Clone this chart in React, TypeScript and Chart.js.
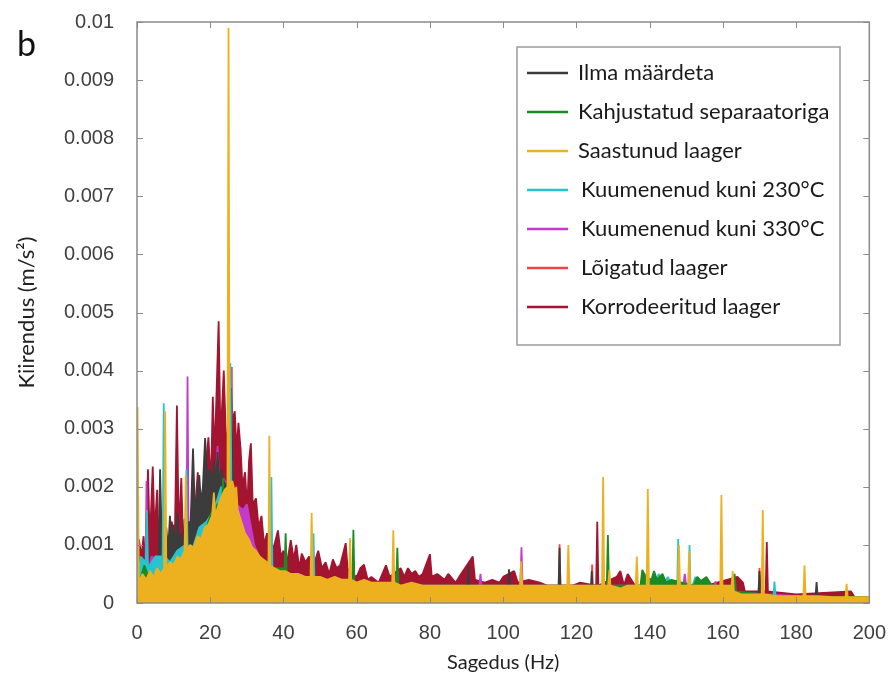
import React, { useEffect, useRef } from 'react';
import { Chart, registerables } from 'chart.js';

Chart.register(...registerables);

// Axis ticks
const xTickValues = [0, 20, 40, 60, 80, 100, 120, 140, 160, 180, 200];
const xTickLabels = ['0', '20', '40', '60', '80', '100', '120', '140', '160', '180', '200'];
const yTickValues = [0, 0.001, 0.002, 0.003, 0.004, 0.005, 0.006, 0.007, 0.008, 0.009, 0.01];
const yTickLabels = ['0', '0.001', '0.002', '0.003', '0.004', '0.005', '0.006', '0.007', '0.008', '0.009', '0.01'];

const seriesNames = [
  'Ilma määrdeta',
  'Kahjustatud separaatoriga',
  'Saastunud laager',
  'Kuumenenud kuni 230°C',
  'Kuumenenud kuni 330°C',
  'Lõigatud laager',
  'Korrodeeritud laager',
];
const seriesColors = ['#3c3c3c', '#1b8a22', '#edb120', '#26c4cc', '#c23bcc', '#f04545', '#a2142f'];
// drawing order: lower = drawn on top
const seriesDrawOrder = [3, 1, 0, 2, 4, 5, 6];

// amplitudes are listed in 10^-3 m/s^2, frequencies in Hz
const UNIT = 0.001;

const ilmaMaardeta: [number, number][] = [
  [0, 0.1], [5.8, 0.2], [6.3, 2.3], [6.8, 1.0], [7.5, 1.1], [8, 1.3], [8.5, 0.9], [9, 1.5], [9.5, 1.0],
  [10, 1.35], [10.5, 0.9], [11, 1.55], [11.5, 1.0], [12, 1.2], [12.5, 0.9], [13, 1.45], [13.5, 1.0], [14, 1.4],
  [14.6, 1.3], [15.3, 2.66], [15.8, 1.6], [16.4, 1.8], [17, 2.2], [17.5, 1.7], [18, 2.0], [18.6, 2.84],
  [19.2, 2.2], [20, 2.3], [20.6, 2.0], [21, 2.45], [21.6, 2.1], [22, 2.6], [22.6, 2.0], [23, 2.3], [24, 2.0],
  [25.4, 2.2], [25.7, 3.7], [26.2, 2.0], [27, 1.5], [28, 1.0], [29, 1.1], [30, 0.8], [31, 0.3], [35, 0.15],
  [90.2, 0.15], [90.5, 0.65], [90.8, 0.15], [101.3, 0.15], [101.6, 0.58], [101.9, 0.15], [115.1, 0.15],
  [115.4, 0.95], [115.7, 0.15], [123.9, 0.15], [124.2, 0.55], [124.5, 0.1], [169.7, 0.1], [170.0, 0.55],
  [170.3, 0.1], [185.3, 0.1], [185.6, 0.36], [185.9, 0.1], [200, 0.05],
];

const kahjustatud: [number, number][] = [
  [0, 0.2], [2, 0.65], [3.5, 0.4], [5, 0.5], [8, 0.5], [10, 0.55], [12, 0.6], [14, 0.7], [16, 0.9], [18, 1.1],
  [20, 1.5], [22, 1.7], [23.2, 1.7], [23.5, 2.15], [23.8, 1.6], [25, 1.6], [26, 1.3], [27.5, 1.2], [28.3, 1.4],
  [29, 1.0], [30, 0.9], [33, 0.7], [36, 0.6], [40.3, 0.6], [40.6, 1.2], [40.9, 0.5], [45, 0.4], [50, 0.3],
  [58.8, 0.3], [59.1, 1.26], [59.4, 0.3], [70.8, 0.3], [71.1, 0.95], [71.4, 0.3], [90, 0.3], [110, 0.3],
  [128.3, 0.3], [128.6, 1.17], [128.9, 0.3], [137.5, 0.3], [138, 0.57], [139, 0.45], [140.5, 0.4],
  [141.2, 0.55], [142, 0.4], [143.5, 0.5], [144.5, 0.35], [146, 0.4], [152, 0.3], [153, 0.45], [154, 0.38],
  [155.5, 0.45], [157, 0.3], [162.8, 0.3], [163.2, 0.5], [163.6, 0.2], [175, 0.12], [200, 0.1],
];

const saastunud: [number, number][] = [
  [0, 0.3], [0.15, 3.37], [0.5, 0.35], [1.5, 0.5], [2.5, 0.4], [3.5, 0.55], [4.5, 0.45], [5.5, 0.6],
  [6.5, 0.5], [7.4, 0.6], [7.7, 3.3], [8.0, 0.6], [9, 0.7], [10, 0.65], [11, 0.8], [12, 0.75], [13.0, 0.9],
  [13.3, 2.2], [13.6, 0.9], [14.5, 1.0], [15.5, 0.95], [16.5, 1.15], [17.5, 1.1], [18.5, 1.3], [19.5, 1.35],
  [20.5, 1.5], [21.0, 1.9], [21.4, 1.5], [22.3, 1.7], [23.2, 1.85], [24, 1.95], [24.7, 2.0], [25.0, 9.9],
  [25.3, 2.05], [26, 2.1], [26.8, 1.9], [27.1, 2.0], [27.5, 1.6], [28.5, 1.4], [29.5, 1.2], [30.5, 1.1],
  [31.5, 0.95], [32.5, 0.9], [33.5, 0.8], [34.5, 0.75], [35.5, 0.7], [35.9, 0.7], [36.15, 2.88], [36.4, 0.65],
  [37.5, 0.6], [39, 0.55], [40.5, 0.55], [42, 0.5], [44, 0.5], [46, 0.45], [47.4, 0.45], [47.7, 1.55],
  [48.0, 0.45], [50, 0.45], [52, 0.4], [54, 0.45], [56, 0.4], [57.9, 0.4], [58.2, 1.12], [58.5, 0.4],
  [60, 0.35], [62, 0.4], [64, 0.35], [66, 0.35], [68, 0.35], [69.7, 0.35], [70.0, 1.25], [70.3, 0.35],
  [72, 0.3], [75, 0.35], [78, 0.3], [81, 0.3], [84, 0.3], [87, 0.3], [90, 0.3], [93, 0.3], [96, 0.3],
  [99, 0.3], [102, 0.3], [104.6, 0.3], [104.9, 0.72], [105.2, 0.3], [108, 0.3], [111, 0.3], [114, 0.3],
  [117.5, 0.3], [117.8, 1.0], [118.1, 0.3], [121, 0.3], [124, 0.3], [127.0, 0.3], [127.3, 2.17], [127.6, 0.3],
  [128.7, 0.3], [129.0, 0.57], [129.3, 0.3], [132, 0.25], [134, 0.3], [136.2, 0.3], [136.5, 0.8], [136.8, 0.3],
  [139.2, 0.3], [139.5, 1.96], [139.8, 0.3], [142, 0.3], [145, 0.3], [147.7, 0.3], [148.0, 1.0], [148.3, 0.3],
  [150.5, 0.3], [150.8, 0.9], [151.1, 0.3], [154, 0.3], [157, 0.3], [159.3, 0.3], [159.6, 1.86], [159.9, 0.3],
  [162.4, 0.3], [162.7, 0.55], [163.0, 0.2], [165, 0.15], [168, 0.15], [170.6, 0.15], [170.9, 1.6],
  [171.2, 0.15], [175, 0.12], [179, 0.12], [182.0, 0.12], [182.3, 0.65], [182.6, 0.12], [186, 0.12],
  [190, 0.1], [193.5, 0.1], [193.8, 0.33], [194.1, 0.1], [197, 0.1], [200, 0.1],
];

const kuumenenud230: [number, number][] = [
  [0, 0.2], [1, 0.8], [2.4, 0.7], [2.7, 1.6], [3.0, 0.6], [5, 0.8], [7.0, 0.8], [7.3, 3.44], [7.6, 0.8],
  [9, 0.7], [11, 0.9], [13.2, 1.0], [13.5, 2.3], [13.8, 1.0], [15, 0.9], [17, 1.3], [19, 1.4], [21, 1.6],
  [23, 2.0], [25.2, 1.8], [25.5, 4.13], [25.8, 1.8], [27, 1.6], [29, 1.2], [31, 0.8], [33, 0.6], [36.4, 0.5],
  [36.7, 2.17], [37.0, 0.5], [40, 0.4], [47.9, 0.4], [48.2, 1.2], [48.5, 0.3], [60, 0.3], [90, 0.25],
  [120, 0.25], [141, 0.3], [142.5, 0.5], [143.5, 0.3], [145, 0.45], [146, 0.3], [147.5, 0.2], [147.8, 1.1],
  [148.1, 0.2], [150.6, 0.2], [150.9, 1.0], [151.2, 0.2], [152.5, 0.45], [153.5, 0.2], [173.8, 0.1],
  [174.1, 0.37], [174.4, 0.1], [200, 0.1],
];

const kuumenenud330: [number, number][] = [
  [0, 0.2], [1, 0.5], [2.3, 0.5], [2.6, 2.1], [2.9, 0.5], [4, 0.8], [6, 0.7], [8, 0.6], [10, 0.8], [12, 1.0],
  [13.5, 1.0], [13.8, 3.9], [14.1, 1.0], [16, 1.2], [18, 1.5], [20, 1.8], [21.6, 2.2], [22, 2.7], [22.4, 2.2],
  [23, 2.2], [25, 2.0], [27, 1.7], [29, 1.6], [30, 1.7], [32, 1.0], [34, 0.7], [40, 0.4], [60.5, 0.3],
  [60.8, 0.38], [61.1, 0.3], [93.5, 0.3], [93.8, 0.5], [94.1, 0.3], [104.7, 0.3], [105.0, 0.96], [105.3, 0.3],
  [149.2, 0.3], [149.6, 0.5], [150.0, 0.3], [157.5, 0.3], [158, 0.37], [158.5, 0.2], [200, 0.05],
];

const loigatud: [number, number][] = [
  [0, 0.1], [25.6, 0.1], [25.9, 4.06], [26.2, 0.1], [115.1, 0.1], [115.4, 1.01], [115.7, 0.1], [124.0, 0.1],
  [124.3, 0.66], [124.6, 0.1], [169.7, 0.1], [170.0, 0.6], [170.3, 0.1], [200, 0.05],
];

const korrodeeritud: [number, number][] = [
  [0, 0.3], [0.5, 1.1], [1.2, 0.8], [1.8, 1.15], [2.3, 0.6], [3, 2.3], [3.5, 1.0], [4.3, 2.35], [4.8, 1.2],
  [5.5, 1.95], [6, 0.9], [7, 1.0], [8.5, 0.9], [9.5, 1.4], [10.3, 1.0], [10.9, 3.4], [11.4, 1.2], [12.1, 2.15],
  [12.6, 1.0], [13.2, 1.3], [14.5, 1.4], [15.5, 1.3], [16.6, 2.25], [17.2, 1.5], [18, 1.6], [19.5, 2.85],
  [20.2, 2.0], [20.7, 3.55], [21.2, 2.5], [22.3, 4.85], [22.8, 2.8], [23.7, 4.0], [24.2, 3.0], [24.8, 2.6],
  [25.5, 3.0], [26.7, 3.3], [27.2, 2.6], [27.7, 3.1], [28.3, 2.65], [28.8, 2.0], [29.5, 2.25], [30.1, 1.6],
  [30.6, 2.45], [31.1, 2.75], [31.6, 1.7], [32.5, 1.8], [33.2, 1.3], [34, 1.5], [34.7, 1.0], [35.5, 1.2],
  [36.5, 0.9], [37.5, 1.0], [38.5, 1.25], [39.3, 0.8], [40, 0.9], [41, 0.7], [42, 1.08], [42.8, 0.75],
  [43.5, 1.0], [44.3, 0.6], [45, 0.85], [46, 0.7], [47, 0.8], [48, 0.6], [49.5, 0.9], [50.5, 0.6],
  [51.5, 0.7], [52.5, 0.5], [53.5, 0.75], [54.5, 0.6], [55.5, 0.65], [57, 1.03], [57.5, 0.6], [58.5, 0.5],
  [60, 0.45], [61, 0.6], [62, 0.66], [63, 0.4], [64, 0.45], [66, 0.35], [68, 0.65], [69, 0.45], [72, 0.6],
  [73, 0.45], [74, 0.6], [75, 0.5], [76, 0.55], [77, 0.45], [78, 0.5], [80, 0.84], [80.5, 0.45], [82, 0.5],
  [84, 0.4], [85, 0.5], [87, 0.35], [88, 0.45], [91.7, 0.8], [92.3, 0.4], [95, 0.35], [97, 0.4], [99, 0.35],
  [100, 0.45], [103, 0.55], [104, 0.35], [107, 0.4], [110, 0.35], [112, 0.3], [114, 0.3], [119, 0.3],
  [121, 0.35], [125.4, 0.3], [125.7, 1.4], [126.0, 0.3], [131, 0.45], [132, 0.55], [133, 0.3], [134, 0.5],
  [135, 0.4], [137, 0.2], [150, 0.2], [164, 0.45], [165.5, 0.35], [166, 0.2], [171.7, 0.2], [172.0, 1.05],
  [172.3, 0.2], [180, 0.15], [195, 0.2], [196, 0.1], [200, 0.1],
];

const seriesData = [ilmaMaardeta, kahjustatud, saastunud, kuumenenud230, kuumenenud330, loigatud, korrodeeritud];

const W = 896;
const H = 684;

const framePlugin = {
  id: 'frameAndLegend',
  afterDatasetsDraw(chart: any) {
    const { ctx, chartArea, scales } = chart;
    const { left, right, top, bottom } = chartArea;
    ctx.save();
    ctx.strokeStyle = '#8a8a8a';
    ctx.lineWidth = 1.5;
    ctx.strokeRect(left, top, right - left, bottom - top);
    ctx.lineWidth = 1;
    ctx.beginPath();
    yTickValues.forEach((v) => {
      const y = Math.round(scales.y.getPixelForValue(v)) + 0.5;
      ctx.moveTo(left, y); ctx.lineTo(left + 6, y);
      ctx.moveTo(right, y); ctx.lineTo(right - 6, y);
    });
    xTickValues.forEach((v) => {
      const x = Math.round(scales.x.getPixelForValue(v)) + 0.5;
      ctx.moveTo(x, bottom); ctx.lineTo(x, bottom - 6);
      ctx.moveTo(x, top); ctx.lineTo(x, top + 6);
    });
    ctx.stroke();
    ctx.restore();
  },
  afterDraw(chart: any) {
    const { ctx } = chart;
    ctx.save();
    // panel letter
    ctx.fillStyle = '#111';
    ctx.font = '34px Lato, "Liberation Sans", sans-serif';
    ctx.textBaseline = 'alphabetic';
    ctx.textAlign = 'left';
    ctx.fillText('b', 17, 56);
    // legend box
    const bx = 517, by = 47, bw = 323, bh = 298;
    ctx.fillStyle = '#ffffff';
    ctx.fillRect(bx, by, bw, bh);
    ctx.strokeStyle = '#9a9a9a';
    ctx.lineWidth = 1.5;
    ctx.strokeRect(bx, by, bw, bh);
    ctx.font = '22px Lato, "Open Sans", sans-serif';
    ctx.textBaseline = 'middle';
    chart.data.datasets.forEach((ds: any, i: number) => {
      const y = 73 + i * 39;
      ctx.strokeStyle = ds.borderColor;
      ctx.lineWidth = 2.5;
      ctx.beginPath();
      ctx.moveTo(527, y); ctx.lineTo(568, y);
      ctx.stroke();
      ctx.fillStyle = '#1a1a1a';
      ctx.fillText(ds.label, i >= 3 ? 581 : 578, y);
    });
    ctx.restore();
  },
};

export default function App() {
  const ref = useRef<HTMLCanvasElement | null>(null);

  useEffect(() => {
    if (!ref.current) return;
    const datasets = seriesData.map((arr, i) => ({
      label: seriesNames[i],
      data: arr.map(([x, y]) => ({ x, y: y * UNIT })),
      borderColor: seriesColors[i],
      backgroundColor: seriesColors[i],
      borderWidth: 1.8,
      borderJoinStyle: 'bevel' as const,
      pointRadius: 0,
      tension: 0,
      fill: 'origin',
      order: seriesDrawOrder[i],
    }));
    const chart = new Chart(ref.current, {
      type: 'line',
      data: { datasets },
      options: {
        animation: false,
        responsive: false,
        events: [],
        layout: { padding: { left: 0, right: 24, top: 22, bottom: 0 } },
        plugins: {
          legend: { display: false },
          tooltip: { enabled: false },
        },
        scales: {
          x: {
            type: 'linear',
            min: 0,
            max: 200,
            afterBuildTicks: (s: any) => { s.ticks = xTickValues.map((v) => ({ value: v })); },
            afterFit: (s: any) => { s.height = 81; },
            grid: { display: false },
            border: { display: false },
            ticks: {
              padding: 10,
              maxRotation: 0,
              color: '#404040',
              font: { family: '"Liberation Sans", Arial, sans-serif', size: 20 },
              callback: (_v: any, i: number) => xTickLabels[i],
            },
            title: {
              display: true,
              text: 'Sagedus (Hz)',
              color: '#222',
              font: { family: 'Lato, "Open Sans", sans-serif', size: 20 },
              padding: { top: 0, bottom: 9 },
            },
          },
          y: {
            type: 'linear',
            min: 0,
            max: 0.01,
            afterBuildTicks: (s: any) => { s.ticks = yTickValues.map((v) => ({ value: v })); },
            afterFit: (s: any) => { s.width = 137; s.paddingTop = 0; s.paddingBottom = 0; },
            grid: { display: false },
            border: { display: false },
            ticks: {
              padding: 15,
              color: '#404040',
              font: { family: '"Liberation Sans", Arial, sans-serif', size: 20 },
              callback: (_v: any, i: number) => yTickLabels[i],
            },
            title: {
              display: true,
              text: 'Kiirendus (m/s²)',
              color: '#222',
              font: { family: 'Lato, "Open Sans", sans-serif', size: 22 },
              padding: { top: 14, bottom: 0 },
            },
          },
        },
      },
      plugins: [framePlugin],
    });
    return () => chart.destroy();
  }, []);

  return (
    <div style={{ position: 'fixed', left: 0, top: 0, width: W, height: H, background: '#fff' }}>
      <canvas ref={ref} width={W} height={H} style={{ display: 'block', width: W, height: H }} />
    </div>
  );
}
